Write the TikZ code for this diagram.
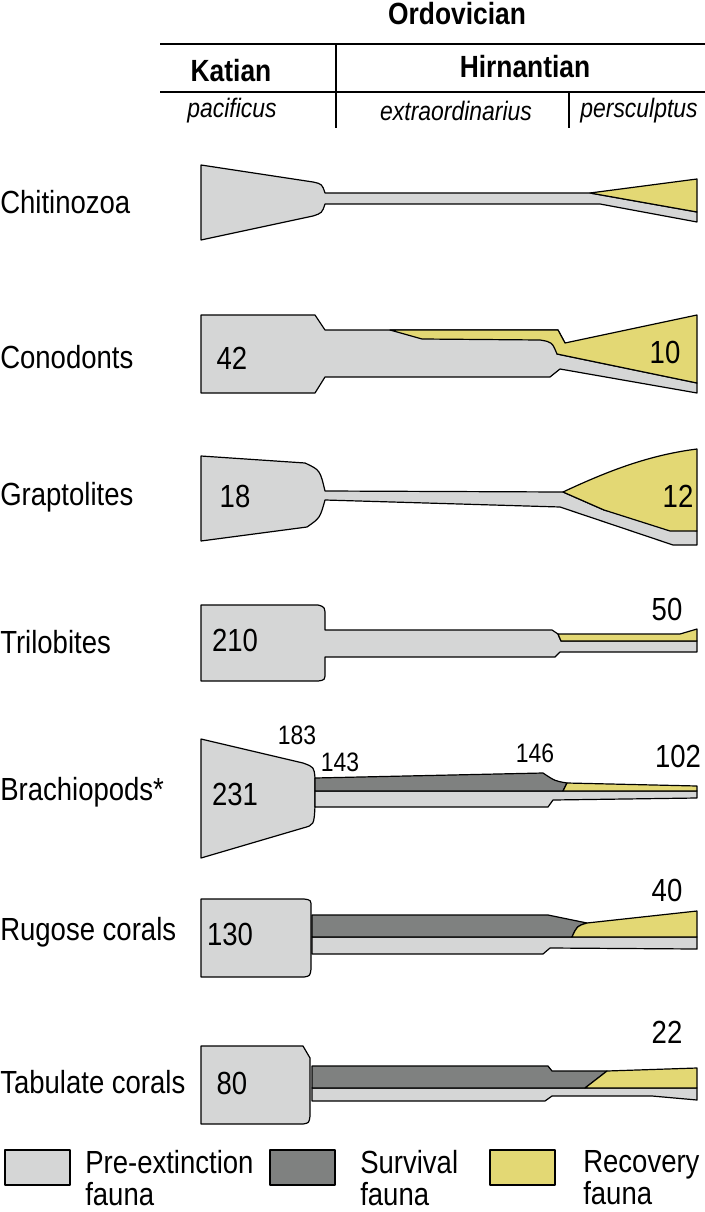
\documentclass[tikz,border=0pt]{standalone}
\usepackage{fontspec}
\setmainfont{Liberation Sans}[FakeStretch=0.86]
\begin{document}
\begin{tikzpicture}[x=0.75pt,y=-0.75pt,line join=round,
  pre/.style={fill=preC,draw=black,line width=0.9pt},
  surv/.style={fill=survC,draw=black,line width=0.9pt},
  rec/.style={fill=recC,draw=black,line width=0.9pt},
  lab/.style={font=\fontsize{24}{26}\selectfont,inner sep=0pt},
  num/.style={font=\fontsize{24}{26}\selectfont,inner sep=0pt},
  snum/.style={font=\fontsize{20}{22}\selectfont,inner sep=0pt},
  hdr/.style={font=\fontsize{23}{25}\selectfont\bfseries,inner sep=0pt},
  zone/.style={font=\fontsize{20}{22}\selectfont\itshape,inner sep=0pt},
  rule/.style={line width=1pt}]
\definecolor{preC}{RGB}{213,214,214}
\definecolor{survC}{RGB}{127,129,128}
\definecolor{recC}{RGB}{227,216,116}
\useasboundingbox (0,0) rectangle (705,1212);
% header
\node[hdr] (ord) at (457,14) {Ordovician};
\coordinate (h1) at (160,44); \coordinate (h2) at (705,44);
\draw[rule] (h1) -- (h2);
\draw[rule] (160,92) -- (705,92);
\draw[rule] (336,44) -- (336,128);
\draw[rule] (569,92) -- (569,128);
\node[hdr] (kat) at (231,71) {Katian};
\node[hdr] (hir) at (525,67) {Hirnantian};
\node[zone] (pac) at (232,111) {pacificus};
\node[zone] (ext) at (456,111) {extraordinarius};
\node[zone] (per) at (639,111) {persculptus};
% labels
\node[lab,anchor=west] (l1) at (0,202) {Chitinozoa};
\node[lab,anchor=west] (l2) at (0,357) {Conodonts};
\node[lab,anchor=west] (l3) at (0,497) {Graptolites};
\node[lab,anchor=west] (l4) at (0,642) {Trilobites};
\node[lab,anchor=west] (l5) at (0,792) {Brachiopods*};
\node[lab,anchor=west] (l6) at (0,932) {Rugose corals};
\node[lab,anchor=west] (l7) at (0,1082) {Tabulate corals};
% Chitinozoa
\draw[pre] (201,165) -- (313,182) .. controls (322,184) .. (325,193) -- (590,193) -- (697,212) -- (697,222) -- (600,204) -- (325,204) .. controls (322,213) .. (313,216) -- (201,240) -- cycle;
\draw[rec] (590,193) -- (697,179) -- (697,212) -- cycle;
% Conodonts
\draw[pre] (201,315) -- (315,315) -- (325,330) -- (558,330) -- (565,343) -- (557,354) -- (697,383) -- (697,393) -- (560,369) -- (550,377) -- (325,377) -- (315,393) -- (201,393) -- cycle;
\draw[rec] (390,330) -- (558,330) -- (565,343) -- (697,315) -- (697,383) -- (557,354) .. controls (552,342) .. (540,340) -- (422,339) -- cycle;
\node[num] (n42) at (232,358) {42};
\node[num] (n10) at (665,352) {10};
% Graptolites
\draw[pre] (201,456) -- (305,463) .. controls (320,470) .. (325,491) -- (563,492) -- (604,510) -- (697,531) -- (697,545) -- (673,545) -- (560,507) -- (325,500) .. controls (320,518) .. (307,527) -- (201,541) -- cycle;
\draw[rec] (563,492) .. controls (610,470) and (650,455) .. (697,449) -- (697,531) -- (670,531) -- (604,510) -- cycle;
\node[num] (n18) at (235,496) {18};
\node[num] (n12) at (678,496) {12};
% Trilobites
\draw[pre] (201,605) -- (318,605) .. controls (325,607) .. (325,617) -- (325,630) -- (552,630) -- (558,634) -- (561,641) -- (697,641) -- (697,652) -- (560,652) -- (555,657) -- (325,657) -- (325,672) .. controls (325,680) .. (318,681) -- (201,681) -- cycle;
\draw[rec] (558,634) -- (680,634) -- (697,629) -- (697,641) -- (561,641) -- cycle;
\node[num] (n210) at (235,640) {210};
\node[num] (n50) at (667,609) {50};
% Brachiopods
\draw[pre] (201,739) -- (303,763) .. controls (314,767) .. (315,778) -- (315,806) .. controls (314,825) .. (303,828) -- (201,858) -- cycle;
\draw[pre] (315,791) -- (697,791) -- (697,798) -- (553,800) -- (548,807) -- (315,807) -- cycle;
\draw[surv] (315,778) -- (543,773) .. controls (555,781) .. (567,783) -- (563,791) -- (315,791) -- cycle;
\draw[rec] (567,783) -- (697,786) -- (697,791) -- (563,791) -- cycle;
\node[snum] (n183) at (297,735) {183};
\node[snum] (n143) at (340,762) {143};
\node[snum] (n146) at (535,753) {146};
\node[num] (n102) at (678,756) {102};
\node[num] (n231) at (235,794) {231};
% Rugose corals
\draw[pre] (201,899) -- (304,899) .. controls (311,900) .. (311,907) -- (311,969) .. controls (310,976) .. (304,977) -- (201,977) -- cycle;
\draw[pre] (312,937) -- (697,937) -- (697,949) -- (550,948) -- (543,954) -- (312,954) -- cycle;
\draw[surv] (312,915) -- (548,915) -- (587,923) .. controls (577,926) .. (572,937) -- (312,937) -- cycle;
\draw[rec] (587,923) -- (697,911) -- (697,937) -- (572,937) .. controls (577,926) .. (587,923) -- cycle;
\node[num] (n130) at (230,934) {130};
\node[num] (n40) at (667,890) {40};
% Tabulate corals
\draw[pre] (201,1046) -- (303,1046) -- (310,1058) -- (310,1116) .. controls (309,1123) .. (303,1124) -- (201,1124) -- cycle;
\draw[pre] (312,1088) -- (697,1088) -- (697,1100) -- (652,1096) -- (552,1096) -- (545,1101) -- (312,1101) -- cycle;
\draw[surv] (312,1066) -- (548,1066) -- (552,1071) -- (607,1071) -- (585,1088) -- (312,1088) -- cycle;
\draw[rec] (607,1071) -- (697,1068) -- (697,1088) -- (585,1088) -- cycle;
\node[num] (n80) at (232,1083) {80};
\node[num] (n22) at (667,1032) {22};
% legend
\draw[pre] (5,1150) rectangle (70,1185);
\draw[surv] (270,1150) rectangle (335,1185);
\draw[rec] (490,1150) rectangle (555,1185);
\node[lab,anchor=north west,align=left,font=\fontsize{24}{24}\selectfont] (lg1) at (85,1150) {Pre-extinction\\fauna};
\node[lab,anchor=north west,align=left,font=\fontsize{24}{24}\selectfont] (lg2) at (360,1150) {Survival\\fauna};
\node[lab,anchor=north west,align=left,font=\fontsize{24}{24}\selectfont] (lg3) at (583,1150) {Recovery\\fauna};
\end{tikzpicture}
\end{document}
